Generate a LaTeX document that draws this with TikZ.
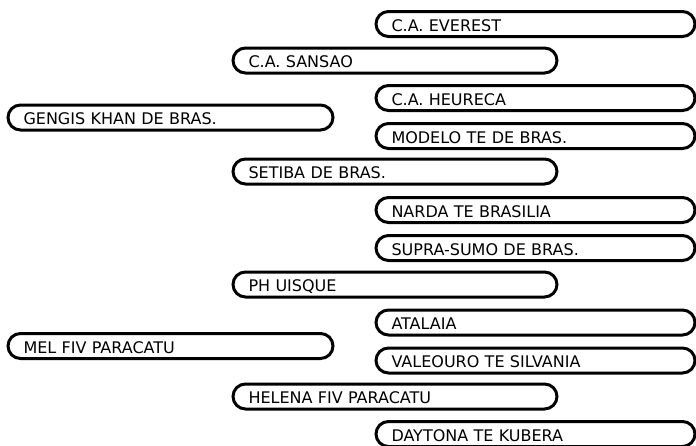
\documentclass[tikz,border=0pt]{standalone}
\usepackage{fontspec}
\setmainfont{DejaVu Sans}
\usetikzlibrary{positioning}
\tikzset{
  horse/.style = {draw,line width=3pt,rounded corners=12.5pt,anchor=west,
    minimum height=25pt,inner ysep=0pt,inner xsep=15.5pt,
    text height=14.5pt,text depth=0.5pt,align=left,
    font=\fontsize{16}{18}\selectfont},
  gen1/.style = {horse,minimum width=325pt,text width=294pt},
  gen2/.style = {horse,minimum width=324pt,text width=293pt},
  gen3/.style = {horse,minimum width=319pt,text width=288pt}
}
\newlength{\pairgap}
\setlength{\pairgap}{10pt}

\begin{document}
\begin{tikzpicture}[x=1pt,y=-1pt]
\useasboundingbox (0,0) rectangle (696,445);

\node[gen1] (gengis) at (6.5,117.5) {GENGIS KHAN DE BRAS.};
\node[gen1] (mel) at (6.5,346) {MEL FIV PARACATU};

\node[gen2] (sansao) at (231.5,60.5) {C.A. SANSAO};
\node[gen2] (setiba) at (231.5,171.5) {SETIBA DE BRAS.};
\node[gen2] (ph) at (231.5,284.5) {PH UISQUE};
\node[gen2] (helena) at (231.5,396.5) {HELENA FIV PARACATU};

\node[gen3] (everest) at (374.5,24) {C.A. EVEREST};
\node[gen3] (heureca) at (374.5,98) {C.A. HEURECA};
\node[gen3,below=\pairgap of heureca.south west,anchor=north west] (modelo) {MODELO TE DE BRAS.};
\node[gen3] (narda) at (374.5,210) {NARDA TE BRASILIA};
\node[gen3,below=\pairgap of narda.south west,anchor=north west] (supra) {SUPRA-SUMO DE BRAS.};
\node[gen3] (atalaia) at (374.5,322.5) {ATALAIA};
\node[gen3,below=\pairgap of atalaia.south west,anchor=north west] (valeouro) {VALEOURO TE SILVANIA};
\node[gen3] (daytona) at (374.5,434) {DAYTONA TE KUBERA};
\end{tikzpicture}
\end{document}
